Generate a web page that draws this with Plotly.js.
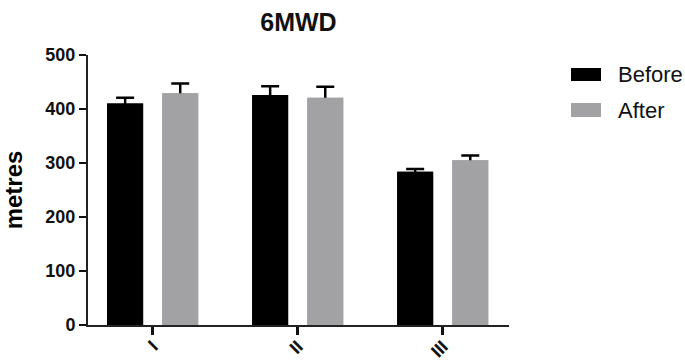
<!DOCTYPE html>
<html>
<head>
<meta charset="utf-8">
<script src="https://cdn.plot.ly/plotly-3.0.1.min.js"></script>
<style>html,body{margin:0;padding:0;background:#fff;}#chart{width:685px;height:362px;}</style>
</head>
<body>
<div id="chart"></div>
<script>
// Data
const categories = ['I', 'II', 'III'];
const beforeValues = [410, 426, 284];
const beforeErrors = [11, 16, 5];
const afterValues = [429, 421, 305];
const afterErrors = [18, 20, 9];
const seriesNames = ['Before', 'After'];
const yTicks = [0, 100, 200, 300, 400, 500];

const FONT = 'Arial, "Liberation Sans", Helvetica, sans-serif';
const BLACK = '#000000';
const GRAY = '#a2a2a5';

// upper error bar only: the lower end reaches down to the base and is covered by the bar itself
function errBar(up, down) {
  return {type: 'data', array: up, arrayminus: down, symmetric: false,
          color: '#000', thickness: 2.5, width: 9, visible: true};
}

const traces = [
  {type: 'bar', name: seriesNames[0], x: categories, y: beforeValues, offsetgroup: 'before',
   marker: {color: BLACK}, error_y: errBar(beforeErrors, beforeValues), showlegend: false},
  {type: 'bar', name: seriesNames[1], x: categories, y: afterValues, offsetgroup: 'after',
   marker: {color: GRAY}, error_y: errBar(afterErrors, afterValues), showlegend: false},
  // same bars drawn again over the lower half of the error bars
  {type: 'bar', name: seriesNames[0], x: categories, y: beforeValues, offsetgroup: 'before',
   marker: {color: BLACK}, showlegend: false},
  {type: 'bar', name: seriesNames[1], x: categories, y: afterValues, offsetgroup: 'after',
   marker: {color: GRAY}, showlegend: false}
];

const L = 88, R = 176, T = 55, B = 37;
const plotW = 685 - L - R, plotH = 362 - T - B;
function px2x(p) { return (p - L) / plotW; }
function py2y(p) { return (362 - B - p) / plotH; }

const layout = {
  width: 685, height: 362,
  margin: {l: L, r: R, t: T, b: B},
  paper_bgcolor: '#fff', plot_bgcolor: '#fff',
  barmode: 'group', bargap: 0.24, bargroupgap: 0.347,
  title: {text: '6MWD', font: {family: FONT, size: 25, weight: 'bold', color: '#111'},
          x: 0.5, xref: 'paper', y: 1 - 22/362, yref: 'container', yanchor: 'middle'},
  xaxis: {
    type: 'category', range: [-0.446, 2.457],
    showline: true, linecolor: '#222', linewidth: 2,
    ticks: 'outside', ticklen: 8, tickwidth: 2.5, tickcolor: '#111',
    tickangle: -45, ticklabelstandoff: -6,
    tickfont: {family: FONT, size: 18, weight: 'bold', color: '#111'},
    showgrid: false, zeroline: false, fixedrange: true
  },
  yaxis: {
    range: [0, 500], tickvals: yTicks, ticktext: yTicks.map(String),
    showline: true, linecolor: '#222', linewidth: 2,
    ticks: 'outside', ticklen: 7, tickwidth: 2, tickcolor: '#111',
    tickfont: {family: FONT, size: 18, weight: 'bold', color: '#111'},
    title: {text: 'metres', font: {family: FONT, size: 24, weight: 'bold', color: '#000'}, standoff: 28},
    showgrid: false, zeroline: false, fixedrange: true
  },
  shapes: [
    {type: 'rect', xref: 'paper', yref: 'paper', x0: px2x(571), x1: px2x(601), y0: py2y(81), y1: py2y(68),
     fillcolor: BLACK, line: {width: 0}},
    {type: 'rect', xref: 'paper', yref: 'paper', x0: px2x(571), x1: px2x(601), y0: py2y(117), y1: py2y(103),
     fillcolor: GRAY, line: {width: 0}}
  ],
  annotations: [
    {text: seriesNames[0], xref: 'paper', yref: 'paper', x: px2x(616), y: py2y(74), xanchor: 'left', yanchor: 'middle',
     showarrow: false, font: {family: FONT, size: 22, color: '#111'}},
    {text: seriesNames[1], xref: 'paper', yref: 'paper', x: px2x(616), y: py2y(110), xanchor: 'left', yanchor: 'middle',
     showarrow: false, font: {family: FONT, size: 22, color: '#111'}}
  ]
};

Plotly.newPlot('chart', traces, layout, {displayModeBar: false, staticPlot: true});
</script>
</body>
</html>
